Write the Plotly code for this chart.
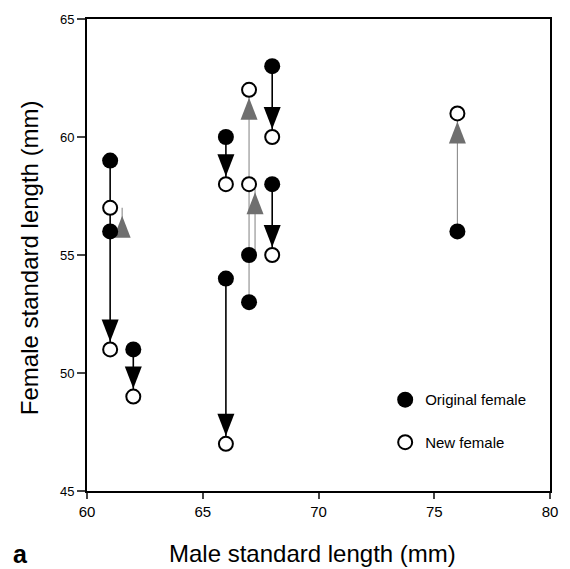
import plotly.graph_objects as go

# ---- data ----
male_length = [61, 61, 62, 66, 66, 67, 67, 68, 68, 76]
original_female = [59, 56, 51, 60, 54, 53, 55, 63, 58, 56]
new_female = [51, 57, 49, 58, 47, 62, 58, 60, 55, 61]
x_ticks = [60, 65, 70, 75, 80]
y_ticks = [45, 50, 55, 60, 65]

# ---- style ----
FONT = "Liberation Sans, Arial, sans-serif"
pixel_shift = {1: 12, 6: 6}   # horizontal pixel offset of some overlapping arrows
BLACK = "#000000"
GRAY_LINE = "#8c8c8c"
GRAY_HEAD = "#6f6f6f"

shapes = []
# shafts
for i, (m, o, n) in enumerate(zip(male_length, original_female, new_female)):
    s = pixel_shift.get(i, 0)
    down = n < o
    shapes.append(dict(type="line", xref="x", yref="y", xsizemode="pixel", xanchor=m,
                       x0=s, x1=s, y0=o, y1=n, layer="below",
                       line=dict(color=BLACK if down else GRAY_LINE, width=1.6 if down else 1.1)))
# heads
for i, (m, o, n) in enumerate(zip(male_length, original_female, new_female)):
    s = pixel_shift.get(i, 0)
    down = n < o
    d = 1 if down else -1
    path = f"M {s-8.5},{d*30} L {s+8.5},{d*30} L {s},{d*8} Z"
    shapes.append(dict(type="path", xref="x", yref="y", xsizemode="pixel", ysizemode="pixel",
                       xanchor=m, yanchor=n, path=path, layer="below",
                       fillcolor=BLACK if down else GRAY_HEAD, line=dict(width=0)))

fig = go.Figure()
fig.add_trace(go.Scatter(x=male_length, y=original_female, mode="markers", name="Original female",
                         legendgroup="a",
                         marker=dict(symbol="circle", size=16, color=BLACK, line=dict(width=0))))
fig.add_trace(go.Scatter(x=male_length, y=new_female, mode="markers", name="New female",
                         legendgroup="b",
                         marker=dict(symbol="circle", size=14, color="white",
                                     line=dict(width=2, color=BLACK))))

fig.update_layout(
    width=570, height=569,
    margin=dict(l=87, r=17, t=17, b=78),
    paper_bgcolor="white", plot_bgcolor="white",
    font=dict(family=FONT, color="black"),
    shapes=shapes,
    showlegend=True,
    legend=dict(x=0.644, y=0.228, xanchor="left", yanchor="top", bgcolor="rgba(0,0,0,0)",
                font=dict(size=15, family=FONT), tracegroupgap=20, traceorder="grouped"),
    xaxis=dict(range=[60, 80], tickvals=x_ticks, ticks="outside", ticklen=6, tickwidth=1.5,
               showline=True, linewidth=2, linecolor="black", mirror=True, showgrid=False,
               zeroline=False, tickfont=dict(size=15, family=FONT)),
    yaxis=dict(range=[45, 65], tickvals=y_ticks, ticks="outside", ticklen=8, tickwidth=1.5,
               showline=True, linewidth=2, linecolor="black", mirror=True, showgrid=False,
               zeroline=False, tickfont=dict(size=13, family=FONT)),
    annotations=[
        dict(text="Male standard length (mm)", xref="paper", yref="paper", x=0.486, y=-0.133,
             xanchor="center", yanchor="middle", showarrow=False, font=dict(size=24, family=FONT)),
        dict(text="Female standard length (mm)", xref="paper", yref="paper", x=-0.1245, y=0.494,
             xanchor="center", yanchor="middle", textangle=-90, showarrow=False,
             font=dict(size=24, family=FONT)),
        dict(text="<b>a</b>", xref="paper", yref="paper", x=-0.143, y=-0.133,
             xanchor="center", yanchor="middle", showarrow=False, font=dict(size=25, family=FONT)),
    ],
)

fig.write_html("out.html")
